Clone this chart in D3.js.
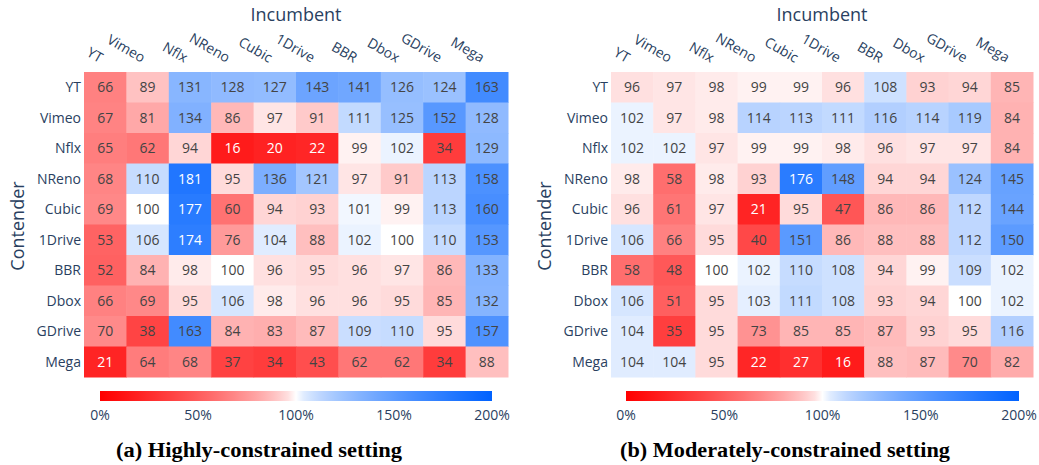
<!DOCTYPE html>
<html>
<head>
<meta charset="utf-8">
<script src="https://cdnjs.cloudflare.com/ajax/libs/d3/7.8.5/d3.min.js"></script>
<style>
body { margin: 0; background: #fff; }
svg { display: block; }
</style>
</head>
<body>
<div id="chart"></div>
<script>
var apps = ['YT', 'Vimeo', 'Nflx', 'NReno', 'Cubic', '1Drive', 'BBR', 'Dbox', 'GDrive', 'Mega'];
var colorbar_ticks = [0, 50, 100, 150, 200];

// rows = contender, columns = incumbent (percent)
var high_values = [
	[66, 89, 131, 128, 127, 143, 141, 126, 124, 163],
	[67, 81, 134, 86, 97, 91, 111, 125, 152, 128],
	[65, 62, 94, 16, 20, 22, 99, 102, 34, 129],
	[68, 110, 181, 95, 136, 121, 97, 91, 113, 158],
	[69, 100, 177, 60, 94, 93, 101, 99, 113, 160],
	[53, 106, 174, 76, 104, 88, 102, 100, 110, 153],
	[52, 84, 98, 100, 96, 95, 96, 97, 86, 133],
	[66, 69, 95, 106, 98, 96, 96, 95, 85, 132],
	[70, 38, 163, 84, 83, 87, 109, 110, 95, 157],
	[21, 64, 68, 37, 34, 43, 62, 62, 34, 88]
];

var moderate_values = [
	[96, 97, 98, 99, 99, 96, 108, 93, 94, 85],
	[102, 97, 98, 114, 113, 111, 116, 114, 119, 84],
	[102, 102, 97, 99, 99, 98, 96, 97, 97, 84],
	[98, 58, 98, 93, 176, 148, 94, 94, 124, 145],
	[96, 61, 97, 21, 95, 47, 86, 86, 112, 144],
	[106, 66, 95, 40, 151, 86, 88, 88, 112, 150],
	[58, 48, 100, 102, 110, 108, 94, 99, 109, 102],
	[106, 51, 95, 103, 111, 108, 93, 94, 100, 102],
	[104, 35, 95, 73, 85, 85, 87, 93, 95, 116],
	[104, 104, 95, 22, 27, 16, 88, 87, 70, 82]
];

var tick_color = '#2a3f5f';
var font = '"Open Sans", sans-serif';

// distance from 100% -> how far from white; a bit stronger than linear
var strength = d3.scalePow().exponent(0.65).domain([0, 100]).range([0, 1]).clamp(true);
var to_red = d3.interpolateRgb('#ffffff', 'rgb(255,0,0)');
var to_blue = d3.interpolateRgb('#ffffff', 'rgb(0,98,255)');

function color(v)
{
	if (v < 100)
	{
		return to_red(strength(100 - v));
	}
	return to_blue(strength(v - 100));
}

var svg = d3.select('#chart').append('svg')
	.attr('width', 1039)
	.attr('height', 465);

var defs = svg.append('defs');
var grad = defs.append('linearGradient')
	.attr('id', 'cbar')
	.attr('x1', '0%').attr('x2', '100%')
	.attr('y1', '0%').attr('y2', '0%');
grad.selectAll('stop')
	.data(d3.range(0, 201, 4))
	.enter()
	.append('stop')
	.attr('offset', function(d){ return (d / 2) + '%'; })
	.attr('stop-color', function(d){ return color(d); });


function draw_panel(values, left, right, cbar_left, cbar_right, title_x, caption, caption_x, caption_len)
{
	var top = 72, bottom = 377;
	var g = svg.append('g');

	var x = d3.scaleBand().domain(apps).range([left, right]);
	var y = d3.scaleBand().domain(apps).range([top, bottom]);

	var cells = [];
	for (var i = 0; i < values.length; i++)
	{
		for (var k = 0; k < values[i].length; k++)
		{
			cells.push({row: apps[i], col: apps[k], value: values[i][k]});
		}
	}

	g.selectAll('rect.cell')
		.data(cells)
		.enter()
		.append('rect')
		.attr('class', 'cell')
		.attr('x' , function(d){ return x(d.col); })
		.attr('y' , function(d){ return y(d.row); })
		.attr('width' , x.bandwidth() + 0.5)
		.attr('height' , y.bandwidth() + 0.5)
		.attr('fill' , function(d){ return color(d.value); });

	g.selectAll('text.val')
		.data(cells)
		.enter()
		.append('text')
		.attr('class', 'val')
		.attr('x' , function(d){ return x(d.col) + x.bandwidth() / 2; })
		.attr('y' , function(d){ return y(d.row) + y.bandwidth() / 2 + 5; })
		.attr('text-anchor', 'middle')
		.attr('font-family', font)
		.attr('font-size' , '14px')
		.attr('fill' , function(d){ return (d.value < 30 || d.value > 170) ? '#ffffff' : '#444444'; })
		.text(function(d){ return d.value; });

	// row labels
	g.selectAll('text.ylab')
		.data(apps)
		.enter()
		.append('text')
		.attr('class', 'ylab')
		.attr('x' , left - 3)
		.attr('y' , function(d){ return y(d) + y.bandwidth() / 2 + 5; })
		.attr('text-anchor', 'end')
		.attr('font-family', font)
		.attr('font-size' , '14px')
		.attr('fill' , tick_color)
		.text(function(d){ return d; });

	// column labels, angled
	g.selectAll('text.xlab')
		.data(apps)
		.enter()
		.append('text')
		.attr('class', 'xlab')
		.attr('transform', function(d){ return 'translate(' + (x(d) + x.bandwidth() / 2 - 6) + ',63) rotate(30)'; })
		.attr('text-anchor', 'end')
		.attr('font-family', font)
		.attr('font-size' , '14px')
		.attr('fill' , tick_color)
		.text(function(d){ return d; });

	g.append('text')
		.attr('x', title_x)
		.attr('y', 21)
		.attr('text-anchor', 'middle')
		.attr('font-family', font)
		.attr('font-size' , '18px')
		.attr('fill' , tick_color)
		.text('Incumbent');

	g.append('text')
		.attr('transform', 'translate(' + (left - 60) + ',226) rotate(-90)')
		.attr('text-anchor', 'middle')
		.attr('font-family', font)
		.attr('font-size' , '18px')
		.attr('fill' , tick_color)
		.text('Contender');

	// colorbar
	var cx = d3.scaleLinear().domain([0, 200]).range([cbar_left, cbar_right]);
	g.append('rect')
		.attr('x', cbar_left)
		.attr('y', 391)
		.attr('width', cbar_right - cbar_left)
		.attr('height', 10)
		.attr('fill', 'url(#cbar)');

	g.selectAll('text.ctick')
		.data(colorbar_ticks)
		.enter()
		.append('text')
		.attr('class', 'ctick')
		.attr('x' , function(d){ return cx(d); })
		.attr('y' , 420)
		.attr('text-anchor', 'middle')
		.attr('font-family', font)
		.attr('font-size' , '14px')
		.attr('fill' , tick_color)
		.text(function(d){ return d + '%'; });

	g.append('text')
		.attr('x', caption_x - caption_len / 2)
		.attr('y', 457)
		.attr('font-family', '"Liberation Serif", serif')
		.attr('font-weight', 'bold')
		.attr('font-size' , '20px')
		.attr('textLength', caption_len)
		.attr('lengthAdjust', 'spacingAndGlyphs')
		.attr('fill' , '#000')
		.text(caption);
}

draw_panel(high_values, 84, 508, 100, 492, 296, '(a) Highly-constrained setting', 259, 286);
draw_panel(moderate_values, 611, 1033, 626, 1019, 822, '(b) Moderately-constrained setting', 785, 330);
</script>
</body>
</html>
